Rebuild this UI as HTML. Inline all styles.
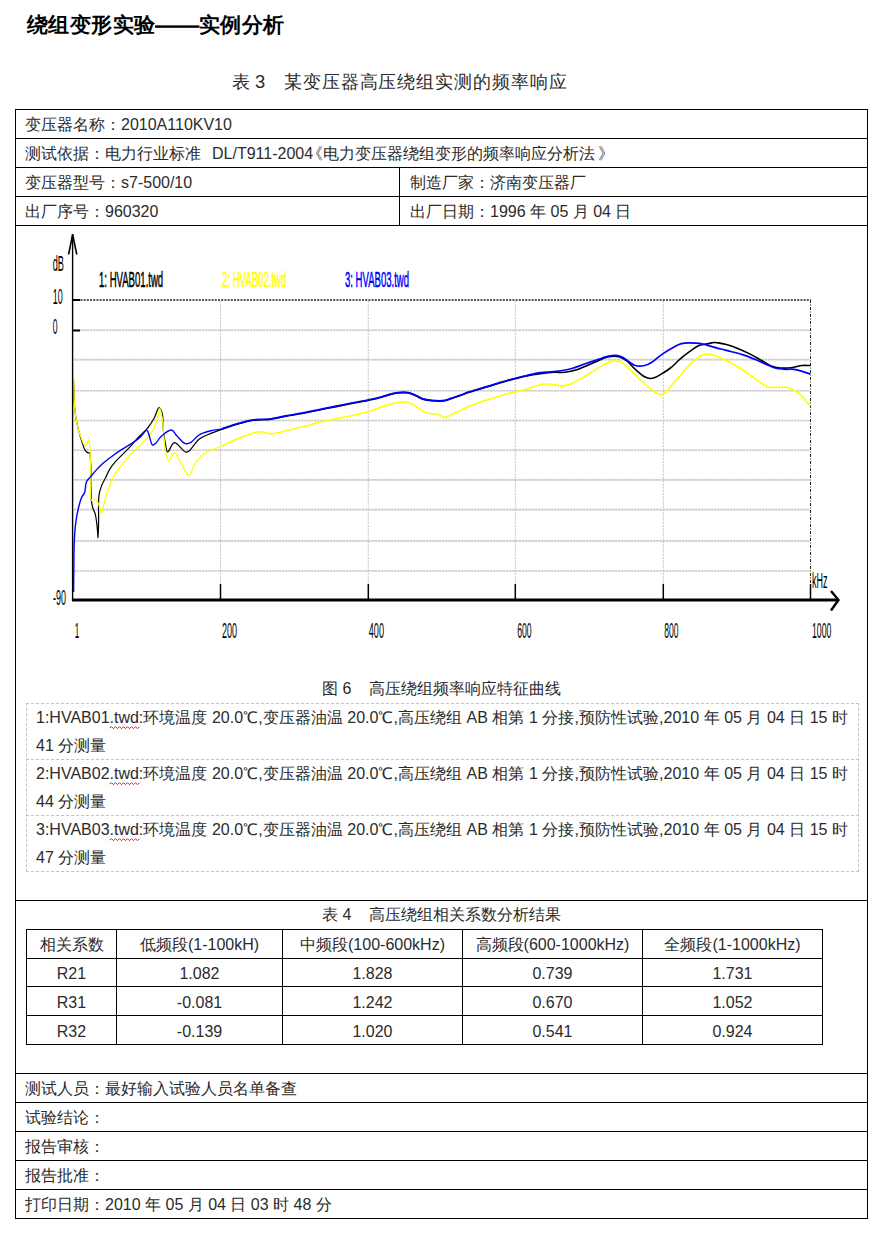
<!DOCTYPE html>
<html><head><meta charset="utf-8">
<style>
html,body{margin:0;padding:0;background:#fff;}
body{width:885px;height:1235px;position:relative;overflow:hidden;font-family:"Liberation Sans",sans-serif;color:#000;}
.h{position:absolute;height:1px;background:#000;}
.v{position:absolute;width:1px;background:#000;}
.t{position:absolute;font-size:16px;line-height:20px;white-space:nowrap;color:#2b2b2b;}
.c{position:absolute;font-size:16px;line-height:20px;white-space:nowrap;text-align:center;color:#2b2b2b;}
.j{position:absolute;font-size:16px;line-height:20px;white-space:nowrap;text-align:justify;text-align-last:justify;color:#2b2b2b;}
</style></head><body>
<!-- Title -->
<div class="t" style="left:27px;top:11px;color:#000;font-family:'Liberation Serif',serif;font-weight:bold;font-size:21.1px;letter-spacing:0.45px;line-height:28px;">绕组变形实验——实例分析</div>
<div class="t" style="left:232px;top:70px;font-size:18.45px;line-height:24px;">表 3</div><div class="t" style="left:284px;top:70px;font-size:18.45px;line-height:24px;letter-spacing:0.9px">某变压器高压绕组实测的频率响应</div>

<!-- outer table lines -->
<div class="v" style="left:15px;top:109px;height:1110px"></div>
<div class="v" style="left:867px;top:109px;height:1110px"></div>
<div class="h" style="left:15px;top:109px;width:853px"></div>
<div class="h" style="left:15px;top:138px;width:853px"></div>
<div class="h" style="left:15px;top:167px;width:853px"></div>
<div class="h" style="left:15px;top:196px;width:853px"></div>
<div class="h" style="left:15px;top:225px;width:853px"></div>
<div class="v" style="left:399px;top:167px;height:58px"></div>
<div class="h" style="left:15px;top:900px;width:853px"></div>
<div class="h" style="left:15px;top:1073px;width:853px"></div>
<div class="h" style="left:15px;top:1102px;width:853px"></div>
<div class="h" style="left:15px;top:1131px;width:853px"></div>
<div class="h" style="left:15px;top:1160px;width:853px"></div>
<div class="h" style="left:15px;top:1189px;width:853px"></div>
<div class="h" style="left:15px;top:1218px;width:853px"></div>

<!-- header rows -->
<div class="t" style="left:25px;top:115px">变压器名称：2010A110KV10</div>
<div class="t" style="left:25px;top:144px">测试依据：电力行业标准</div><div class="t" style="left:212px;top:144px">DL/T911-2004</div><div class="t" style="left:307px;top:144px">《电力变压器绕组变形的频率响应分析法<span style="margin-left:3px">》</span></div>
<div class="t" style="left:25px;top:173px">变压器型号：s7-500/10</div>
<div class="t" style="left:410px;top:173px">制造厂家：济南变压器厂</div>
<div class="t" style="left:25px;top:202px">出厂序号：960320</div>
<div class="t" style="left:410px;top:202px">出厂日期：1996 年 05 月 04 日</div>

<!-- CHART -->
<svg id="chart" width="885" height="1235" viewBox="0 0 885 1235" style="position:absolute;left:0;top:0">
<g fill="none">
<line x1="74" y1="330.3" x2="810" y2="330.3" stroke="#ececec" stroke-width="1.6"/>
<line x1="74" y1="330.3" x2="810" y2="330.3" stroke="#c6c6c6" stroke-width="1.6" stroke-dasharray="2 1.2"/>
<line x1="74" y1="359.6" x2="810" y2="359.6" stroke="#ececec" stroke-width="1.6"/>
<line x1="74" y1="359.6" x2="810" y2="359.6" stroke="#c6c6c6" stroke-width="1.6" stroke-dasharray="2 1.2"/>
<line x1="74" y1="390.7" x2="810" y2="390.7" stroke="#ececec" stroke-width="1.6"/>
<line x1="74" y1="390.7" x2="810" y2="390.7" stroke="#c6c6c6" stroke-width="1.6" stroke-dasharray="2 1.2"/>
<line x1="74" y1="420.5" x2="810" y2="420.5" stroke="#ececec" stroke-width="1.6"/>
<line x1="74" y1="420.5" x2="810" y2="420.5" stroke="#c6c6c6" stroke-width="1.6" stroke-dasharray="2 1.2"/>
<line x1="74" y1="450.2" x2="810" y2="450.2" stroke="#ececec" stroke-width="1.6"/>
<line x1="74" y1="450.2" x2="810" y2="450.2" stroke="#c6c6c6" stroke-width="1.6" stroke-dasharray="2 1.2"/>
<line x1="74" y1="479.9" x2="810" y2="479.9" stroke="#ececec" stroke-width="1.6"/>
<line x1="74" y1="479.9" x2="810" y2="479.9" stroke="#c6c6c6" stroke-width="1.6" stroke-dasharray="2 1.2"/>
<line x1="74" y1="509.6" x2="810" y2="509.6" stroke="#ececec" stroke-width="1.6"/>
<line x1="74" y1="509.6" x2="810" y2="509.6" stroke="#c6c6c6" stroke-width="1.6" stroke-dasharray="2 1.2"/>
<line x1="74" y1="540.9" x2="810" y2="540.9" stroke="#ececec" stroke-width="1.6"/>
<line x1="74" y1="540.9" x2="810" y2="540.9" stroke="#c6c6c6" stroke-width="1.6" stroke-dasharray="2 1.2"/>
<line x1="74" y1="571.0" x2="810" y2="571.0" stroke="#ececec" stroke-width="1.6"/>
<line x1="74" y1="571.0" x2="810" y2="571.0" stroke="#c6c6c6" stroke-width="1.6" stroke-dasharray="2 1.2"/>
<line x1="220.5" y1="301" x2="220.5" y2="584" stroke="#c6c6c6" stroke-width="1.1" stroke-dasharray="2 1.2"/>
<line x1="368.3" y1="301" x2="368.3" y2="584" stroke="#c6c6c6" stroke-width="1.1" stroke-dasharray="2 1.2"/>
<line x1="515.3" y1="301" x2="515.3" y2="584" stroke="#c6c6c6" stroke-width="1.1" stroke-dasharray="2 1.2"/>
<line x1="663.3" y1="301" x2="663.3" y2="584" stroke="#c6c6c6" stroke-width="1.1" stroke-dasharray="2 1.2"/>
<line x1="74" y1="300" x2="811" y2="300" stroke="#555" stroke-width="2" stroke-dasharray="2 1.2"/>
<line x1="810.5" y1="300" x2="810.5" y2="584" stroke="#222" stroke-width="1" stroke-dasharray="3 1.5 1 1.5"/>
<line x1="220.5" y1="584" x2="220.5" y2="599" stroke="#000" stroke-width="1.5"/>
<line x1="368.3" y1="584" x2="368.3" y2="599" stroke="#000" stroke-width="1.5"/>
<line x1="515.3" y1="584" x2="515.3" y2="599" stroke="#000" stroke-width="1.5"/>
<line x1="663.3" y1="584" x2="663.3" y2="599" stroke="#000" stroke-width="1.5"/>
<line x1="810.5" y1="584" x2="810.5" y2="599" stroke="#000" stroke-width="1.5"/>
<line x1="73" y1="300" x2="80" y2="300" stroke="#000" stroke-width="2"/>
<line x1="73" y1="330.5" x2="80" y2="330.5" stroke="#000" stroke-width="2"/>
<path d="M73.6,381 C73.70,384.67 73.76,388.11 73.9,392 C74.05,396.39 74.11,401.37 74.5,406 C74.88,410.57 75.46,415.35 76.2,419.6 C76.86,423.40 77.67,426.67 78.6,430.3 C79.58,434.13 80.78,438.41 82,442 C83.07,445.14 83.93,448.82 85.4,450.7 C86.38,451.95 87.99,453.04 88.8,453.1 C89.22,453.13 89.54,452.45 89.8,452.6 C90.47,452.98 90.22,457.55 90.4,460 C90.58,462.42 90.76,463.93 90.9,467.2 C91.20,474.20 90.71,493.02 91.4,500.2 C91.74,503.72 92.10,505.63 92.8,508 C93.42,510.11 94.54,511.41 95.2,513.8 C96.18,517.34 96.73,523.14 97.2,527.4 C97.62,531.15 97.78,538.00 98,538 C98.27,538.00 98.43,528.43 98.6,522.5 C98.83,514.52 98.03,501.28 99.1,494.4 C99.74,490.27 100.88,487.49 102,484.7 C102.90,482.44 103.89,481.01 105,478.8 C106.42,475.97 107.97,472.07 109.8,469.1 C111.53,466.30 113.50,463.82 115.6,461.4 C117.70,458.98 120.08,456.95 122.4,454.6 C124.87,452.10 127.35,449.64 130,446.8 C133.05,443.52 136.48,439.28 139.6,436 C142.37,433.08 145.29,430.93 147.7,428 C150.13,425.04 152.22,421.68 154.1,418.3 C155.99,414.91 157.49,407.76 159,407.7 C160.13,407.66 161.45,410.87 162.2,413.4 C163.43,417.53 162.79,425.40 163.4,430.8 C163.94,435.54 164.69,440.26 165.5,444.1 C166.13,447.09 166.35,451.76 167.6,452 C169.09,452.28 171.66,443.03 174.4,442.7 C177.47,442.33 182.65,451.34 185.4,452 C186.76,452.32 187.52,451.98 188.8,451.2 C191.52,449.54 195.14,442.32 199,439.3 C202.54,436.53 206.97,435.07 210.8,433.4 C214.28,431.89 217.60,430.87 221,429.6" stroke="#000" stroke-width="1.2" stroke-linejoin="round"/>
<path d="M221,429.6 C226.10,427.87 231.04,425.94 236.3,424.4 C241.76,422.80 247.52,421.03 253.2,420.2 C258.82,419.38 264.58,420.10 270.2,419.4 C275.84,418.70 281.75,416.98 287,416 C291.60,415.14 295.32,414.66 300,413.8 C305.52,412.78 311.98,411.40 318,410.2 C324.05,409.00 330.15,407.82 336.2,406.6 C342.22,405.39 348.52,404.01 354.2,402.9 C359.29,401.90 364.04,401.18 368.7,400.2 C373.09,399.27 376.92,398.31 381.4,397.2 C386.48,395.94 392.70,393.63 397.6,393 C401.56,392.50 405.29,392.42 408.5,393 C411.20,393.49 413.32,394.67 415.7,395.7 C418.15,396.76 420.37,398.45 423,399.3 C425.78,400.20 428.73,400.53 432,400.8 C435.86,401.12 441.10,401.38 444.7,400.8 C447.48,400.35 449.43,399.22 451.9,398.4 C454.52,397.53 457.22,396.68 460,395.7 C462.98,394.65 465.55,393.52 469.2,392.3 C474.41,390.55 482.00,388.43 488.4,386.5 C494.80,384.57 501.18,382.47 507.6,380.7 C513.98,378.94 520.94,377.11 526.8,375.9 C531.67,374.90 535.80,374.30 540.3,373.7 C544.77,373.10 549.39,372.52 553.7,372.3 C557.70,372.09 561.46,372.71 565.3,372.3 C569.16,371.88 573.02,370.99 576.8,369.8 C580.69,368.58 584.33,366.69 588.3,365 C592.60,363.17 598.14,360.64 601.7,359.2 C604.02,358.26 605.19,357.44 607.5,357 C610.64,356.40 615.60,355.97 619,356.8 C622.05,357.55 624.52,359.29 627.1,361.2 C629.98,363.34 632.40,366.72 635.3,369.3 C638.26,371.93 641.85,375.29 644.7,376.8 C646.67,377.84 648.37,378.44 650.2,378.5 C652.00,378.56 653.75,377.92 655.6,377.2 C657.79,376.34 660.06,374.83 662.4,373.4 C665.01,371.80 667.78,370.15 670.5,368 C673.64,365.53 676.78,361.96 680,359.2 C683.11,356.53 686.28,354.00 689.5,351.7 C692.61,349.48 695.70,346.95 699,345.6 C702.06,344.35 705.78,344.16 708.5,343.6 C710.55,343.18 712.21,342.59 713.9,342.5 C715.38,342.42 716.48,342.66 718.1,342.9 C720.39,343.25 723.41,343.81 726.3,344.6 C729.68,345.53 733.33,346.81 737.1,348.3 C741.41,350.00 746.47,352.26 750.7,354.4 C754.56,356.35 758.02,358.53 761.5,360.5 C764.77,362.35 767.74,364.64 771,365.9 C774.08,367.08 777.20,367.69 780.5,368 C783.99,368.33 787.79,368.11 791.4,367.7 C795.03,367.28 798.84,365.84 802.2,365.5 C805.08,365.21 807.60,365.50 810.3,365.5" stroke="#000" stroke-width="1.6" stroke-linejoin="round"/>
<path d="M73.6,378 C73.70,382.17 73.74,385.98 73.9,390.5 C74.09,395.84 74.24,402.77 74.7,408 C75.07,412.27 75.53,415.83 76.2,419.6 C76.84,423.25 77.61,426.85 78.6,430.3 C79.56,433.64 80.79,437.29 82,440 C82.92,442.08 83.87,444.96 84.9,445.3 C85.51,445.50 86.27,444.99 86.8,444.4 C87.63,443.48 88.03,439.46 88.5,439.5 C89.07,439.54 89.49,444.00 89.8,446.8 C90.22,450.54 90.23,455.21 90.4,460 C90.61,465.71 90.74,472.33 90.9,478.8 C91.07,485.70 89.37,498.72 91.4,500.2 C92.23,500.80 93.74,498.86 94.8,499.2 C96.19,499.64 97.60,502.01 98.6,504 C99.85,506.49 100.12,513.29 101.1,513.3 C102.43,513.31 104.10,501.80 105.9,496.3 C107.64,490.98 109.85,485.05 111.7,480.8 C113.04,477.72 113.96,475.59 115.6,473 C117.44,470.09 120.07,467.28 122.4,464.3 C124.86,461.15 127.65,457.04 130,454.6 C131.66,452.87 132.89,452.27 134.7,450.6 C137.40,448.11 141.38,444.20 144.4,440.9 C147.30,437.73 150.36,434.86 152.5,431.2 C154.74,427.37 156.14,422.34 157.4,418.3 C158.48,414.84 159.00,408.50 159.8,408.5 C160.60,408.50 161.65,415.46 162.2,418.3 C162.61,420.44 162.71,421.44 163,424 C163.58,429.21 163.81,441.15 165,447.8 C165.88,452.74 166.72,460.15 168.5,460.5 C170.02,460.80 172.47,452.85 174.4,452.9 C176.40,452.95 178.20,458.21 180.3,461.4 C182.92,465.38 186.17,475.06 188.8,475 C191.24,474.95 192.99,466.62 195.6,463 C198.09,459.55 200.45,456.26 204,453.7 C208.10,450.75 214.20,449.23 219.3,447" stroke="#ffff00" stroke-width="1.3" stroke-linejoin="round"/>
<path d="M219.3,447 C224.97,444.43 230.93,441.53 236.3,439.3 C241.03,437.34 245.39,435.49 249.8,434.2 C253.85,433.02 258.08,431.62 261.7,431.7 C264.78,431.77 267.36,433.77 270.2,433.9 C273.00,434.02 275.33,433.18 278.6,432.5 C283.29,431.53 290.17,429.61 295.6,428.3 C300.60,427.09 305.92,426.02 310,424.9 C313.07,424.06 314.77,423.22 318,422.4 C322.81,421.18 330.15,420.00 336.2,418.8 C342.22,417.60 348.54,416.47 354.2,415.2 C359.31,414.06 364.06,413.01 368.7,411.6 C373.11,410.26 376.88,408.44 381.4,407 C386.44,405.39 392.69,403.17 397.6,402.5 C401.55,401.96 405.32,401.73 408.5,402.5 C411.24,403.16 413.09,404.72 415.7,406.2 C418.99,408.07 422.82,411.67 426.6,413 C430.08,414.23 434.20,413.45 437.4,414.3 C440.13,415.03 442.28,417.41 444.7,417.4 C447.11,417.39 449.43,415.38 451.9,414.3 C454.52,413.15 457.22,411.98 460,410.7 C462.98,409.33 465.53,407.82 469.2,406.3 C474.39,404.15 481.97,401.59 488.4,399.5 C494.77,397.43 501.18,395.55 507.6,393.8 C513.98,392.06 520.78,390.69 526.8,389 C532.24,387.47 537.39,384.85 542.2,384.2 C546.26,383.65 550.26,384.21 553.7,384.6 C556.54,384.92 558.83,386.10 561.4,386.1 C563.97,386.10 566.18,385.63 569.1,384.6 C573.45,383.07 579.28,379.48 584.5,376.5 C590.13,373.29 597.63,368.23 601.7,365.9 C603.88,364.66 604.86,363.98 606.8,363.2 C609.15,362.26 612.31,360.96 614.9,360.9 C617.26,360.85 619.39,361.32 621.7,362.5 C624.79,364.08 628.09,367.81 631.2,370.7 C634.42,373.69 637.38,377.09 640.7,380.2 C644.14,383.42 648.23,387.25 651.5,389.7 C653.95,391.53 656.07,393.42 658.3,394 C660.13,394.47 661.83,394.57 663.7,393.7 C666.69,392.31 669.97,387.22 673.2,383.6 C676.76,379.61 680.39,374.75 684.1,370.7 C687.63,366.84 691.22,362.62 694.9,359.8 C698.01,357.42 701.25,355.17 704.4,354.4 C707.11,353.74 709.83,354.17 712.5,354.7 C715.30,355.26 717.97,356.58 720.8,357.8 C723.89,359.14 726.98,360.66 730.3,362.5 C734.16,364.64 738.58,367.45 742.5,370 C746.27,372.45 749.77,375.01 753.4,377.5 C757.01,379.98 761.42,383.18 764.2,384.9 C765.86,385.93 766.34,386.69 768.3,387.2 C772.24,388.23 782.64,386.19 787.3,387.2 C790.22,387.84 791.81,388.94 794.1,390.3 C796.77,391.89 799.65,393.91 802.2,396.4 C805.09,399.22 807.60,403.20 810.3,406.6" stroke="#ffff00" stroke-width="1.6" stroke-linejoin="round"/>
<path d="M73.6,592 C73.70,581.33 73.74,569.55 73.9,560 C74.03,552.27 74.04,545.57 74.4,539 C74.72,533.16 75.07,527.90 75.8,522.5 C76.51,517.23 77.58,511.54 78.7,507 C79.60,503.36 80.53,499.93 81.7,497.3 C82.57,495.33 83.85,494.43 84.6,492.4 C85.64,489.59 85.25,484.44 86.5,481.7 C87.45,479.63 88.96,478.63 90.4,476.9 C92.13,474.82 94.14,472.33 96.2,470.1 C98.33,467.79 100.52,465.49 103,463.3 C105.66,460.95 108.68,458.72 111.7,456.5 C114.84,454.19 118.32,451.79 121.5,449.7 C124.41,447.78 127.11,446.31 130,444.4 C133.13,442.33 136.71,440.12 139.6,437.7 C142.31,435.43 145.25,430.08 146.9,430.4 C148.16,430.64 148.48,433.90 149.3,436 C150.33,438.63 151.00,444.41 152.5,445 C153.43,445.37 154.70,444.23 155.8,443.3 C157.41,441.94 158.44,438.89 160.6,436.9 C163.34,434.37 168.61,429.61 171.5,430 C173.80,430.31 174.92,433.93 177,436 C179.46,438.44 182.77,442.84 185.4,443.6 C187.18,444.11 188.72,443.57 190.5,442.7 C193.15,441.40 195.71,436.97 199,435 C202.44,432.94 206.97,431.77 210.8,430.8 C214.28,429.92 217.60,429.73 221,429.2" stroke="#0000ff" stroke-width="1.4" stroke-linejoin="round"/>
<path d="M221,429.2 C226.10,427.47 231.04,425.54 236.3,424 C241.76,422.40 247.52,420.63 253.2,419.8 C258.82,418.98 264.58,419.70 270.2,419 C275.84,418.30 281.75,416.58 287,415.6 C291.60,414.74 295.32,414.26 300,413.4 C305.52,412.38 311.98,411.00 318,409.8 C324.05,408.60 330.15,407.42 336.2,406.2 C342.22,404.99 348.52,403.61 354.2,402.5 C359.29,401.50 364.04,400.78 368.7,399.8 C373.09,398.87 376.92,397.91 381.4,396.8 C386.48,395.54 392.70,393.23 397.6,392.6 C401.56,392.10 405.29,392.02 408.5,392.6 C411.20,393.09 413.32,394.27 415.7,395.3 C418.15,396.36 420.37,398.05 423,398.9 C425.78,399.80 428.73,400.13 432,400.4 C435.86,400.72 441.10,400.98 444.7,400.4 C447.48,399.95 449.43,398.82 451.9,398 C454.52,397.13 457.22,396.28 460,395.3 C462.98,394.25 465.55,393.12 469.2,391.9 C474.41,390.15 482.00,388.03 488.4,386.1 C494.80,384.17 501.18,382.07 507.6,380.3 C513.98,378.54 520.95,376.84 526.8,375.5 C531.68,374.38 535.79,373.33 540.3,372.7 C544.75,372.07 548.96,372.27 553.7,371.7 C559.11,371.05 565.65,370.19 571,368.8 C575.84,367.54 579.72,365.66 584.5,364 C589.88,362.14 597.49,359.60 601.7,358.2 C604.14,357.39 605.21,356.72 607.5,356.3 C610.65,355.73 615.95,355.15 619,355.8 C621.21,356.27 622.32,357.32 624.4,358.5 C627.44,360.23 631.64,364.43 635.3,365.5 C638.42,366.41 641.88,366.10 644.7,365.5 C647.21,364.97 649.14,363.91 651.5,362.5 C654.51,360.70 657.78,357.38 661,355.1 C664.12,352.89 667.17,350.89 670.5,349 C673.96,347.04 677.36,344.60 681.4,343.6 C685.87,342.49 692.32,342.96 696.3,343.2 C698.98,343.36 700.89,343.77 703,344.2 C704.93,344.59 706.31,345.02 708.5,345.6 C711.79,346.47 716.82,347.96 720.8,349 C724.54,349.98 727.97,350.72 731.7,351.7 C735.66,352.74 739.87,353.76 743.9,355.1 C748.00,356.46 752.17,358.18 756.1,359.8 C759.85,361.35 763.63,363.15 767,364.6 C769.89,365.84 772.15,367.22 775.1,368 C778.39,368.87 782.54,369.10 785.9,369.3 C788.82,369.47 791.40,368.96 794.1,369.3 C796.83,369.65 799.51,370.60 802.2,371.4 C804.91,372.20 807.60,373.20 810.3,374.1" stroke="#0000ff" stroke-width="1.7" stroke-linejoin="round"/>
<line x1="72.6" y1="234" x2="72.6" y2="601" stroke="#000" stroke-width="1.4"/>
<polyline points="68.6,254.5 72.6,234.5 76.8,254.5" stroke="#000" stroke-width="1.6"/>
<line x1="72" y1="600" x2="838" y2="600" stroke="#000" stroke-width="3"/>
<polyline points="831,591 838.5,600 831,610.5" stroke="#000" stroke-width="2.4"/>
</g>
<g font-family="Liberation Sans, sans-serif"><text x="52.7" y="270.6" font-size="21.5" fill="#000" textLength="11.3" lengthAdjust="spacingAndGlyphs">dB</text><text x="52.7" y="304.2" font-size="21.5" fill="#000" textLength="10" lengthAdjust="spacingAndGlyphs">10</text><text x="52.7" y="333.7" font-size="21.5" fill="#000" textLength="4.8" lengthAdjust="spacingAndGlyphs">0</text><text x="53" y="605" font-size="21.5" fill="#000" textLength="13" lengthAdjust="spacingAndGlyphs">-90</text><text x="74.8" y="638" font-size="21.5" fill="#000" textLength="4.5" lengthAdjust="spacingAndGlyphs">1</text><text x="222" y="638" font-size="21.5" fill="#000" textLength="15" lengthAdjust="spacingAndGlyphs">200</text><text x="368.8" y="638" font-size="21.5" fill="#000" textLength="15.2" lengthAdjust="spacingAndGlyphs">400</text><text x="517.2" y="638" font-size="21.5" fill="#000" textLength="14.5" lengthAdjust="spacingAndGlyphs">600</text><text x="664.2" y="638" font-size="21.5" fill="#000" textLength="14.3" lengthAdjust="spacingAndGlyphs">800</text><text x="812" y="638" font-size="21.5" fill="#000" textLength="19.4" lengthAdjust="spacingAndGlyphs">1000</text><text x="812" y="588" font-size="21.5" fill="#000" textLength="15.5" lengthAdjust="spacingAndGlyphs">kHz</text><text x="99" y="286.9" font-size="22" fill="#000" stroke="#000" stroke-width="0.55" textLength="64.2" lengthAdjust="spacingAndGlyphs">1: HVAB01.twd</text><text x="222" y="286.9" font-size="22" fill="#ffff00" stroke="#ffff00" stroke-width="0.55" textLength="64.3" lengthAdjust="spacingAndGlyphs">2: HVAB02.twd</text><text x="345" y="286.9" font-size="22" fill="#0000ff" stroke="#0000ff" stroke-width="0.55" textLength="64" lengthAdjust="spacingAndGlyphs">3: HVAB03.twd</text></g>
<line x1="155" y1="26.6" x2="199.5" y2="26.6" stroke="#000" stroke-width="2.4"/>
<path d="M109.5,728 L111.5,726.7 L113.5,728.7 L115.5,726.7 L117.5,728.7 L119.5,726.7 L121.5,728.7 L123.5,726.7 L125.5,728.7 L127.5,726.7 L129.5,728.7 L131.5,726.7 L133.5,728.7 L135.5,726.7 L137.5,728.7 L139.5,726.7" stroke="#e02020" stroke-width="1" fill="none"/>
<path d="M109.5,784 L111.5,782.7 L113.5,784.7 L115.5,782.7 L117.5,784.7 L119.5,782.7 L121.5,784.7 L123.5,782.7 L125.5,784.7 L127.5,782.7 L129.5,784.7 L131.5,782.7 L133.5,784.7 L135.5,782.7 L137.5,784.7 L139.5,782.7" stroke="#e02020" stroke-width="1" fill="none"/>
<path d="M109.5,840 L111.5,838.7 L113.5,840.7 L115.5,838.7 L117.5,840.7 L119.5,838.7 L121.5,840.7 L123.5,838.7 L125.5,840.7 L127.5,838.7 L129.5,840.7 L131.5,838.7 L133.5,840.7 L135.5,838.7 L137.5,840.7 L139.5,838.7" stroke="#e02020" stroke-width="1" fill="none"/>
</svg>

<div class="t" style="left:322px;top:679px">图 6&nbsp;&nbsp;&nbsp;&nbsp;高压绕组频率响应特征曲线</div>

<!-- legend boxes -->
<div style="position:absolute;left:26px;top:703px;width:831px;height:167px;border:1px dashed #c4c4c4;"></div>
<div style="position:absolute;left:26px;top:759px;width:833px;height:0;border-top:1px dashed #c4c4c4;"></div>
<div style="position:absolute;left:26px;top:815px;width:833px;height:0;border-top:1px dashed #c4c4c4;"></div>
<div class="j" style="left:36px;top:708px;width:812px">1:HVAB01.twd:环境温度 20.0℃,变压器油温 20.0℃,高压绕组 AB 相第 1 分接,预防性试验,2010 年 05 月 04 日 15 时</div>
<div class="t" style="left:36px;top:736px">41 分测量</div>
<div class="j" style="left:36px;top:764px;width:812px">2:HVAB02.twd:环境温度 20.0℃,变压器油温 20.0℃,高压绕组 AB 相第 1 分接,预防性试验,2010 年 05 月 04 日 15 时</div>
<div class="t" style="left:36px;top:792px">44 分测量</div>
<div class="j" style="left:36px;top:820px;width:812px">3:HVAB03.twd:环境温度 20.0℃,变压器油温 20.0℃,高压绕组 AB 相第 1 分接,预防性试验,2010 年 05 月 04 日 15 时</div>
<div class="t" style="left:36px;top:848px">47 分测量</div>

<!-- table 4 -->
<div class="t" style="left:322px;top:905px">表 4&nbsp;&nbsp;&nbsp;&nbsp;高压绕组相关系数分析结果</div>
<div class="h" style="left:26px;top:929px;width:797px"></div>
<div class="h" style="left:26px;top:958px;width:797px"></div>
<div class="h" style="left:26px;top:986px;width:797px"></div>
<div class="h" style="left:26px;top:1015px;width:797px"></div>
<div class="h" style="left:26px;top:1044px;width:797px"></div>
<div class="v" style="left:26px;top:929px;height:116px"></div>
<div class="v" style="left:116px;top:929px;height:116px"></div>
<div class="v" style="left:282px;top:929px;height:116px"></div>
<div class="v" style="left:462px;top:929px;height:116px"></div>
<div class="v" style="left:642px;top:929px;height:116px"></div>
<div class="v" style="left:822px;top:929px;height:116px"></div>

<div class="c" style="left:27px;width:89px;top:935px">相关系数</div>
<div class="c" style="left:117px;width:165px;top:935px">低频段(1-100kH)</div>
<div class="c" style="left:283px;width:179px;top:935px">中频段(100-600kHz)</div>
<div class="c" style="left:463px;width:179px;top:935px">高频段(600-1000kHz)</div>
<div class="c" style="left:643px;width:179px;top:935px">全频段(1-1000kHz)</div>

<div class="c" style="left:27px;width:89px;top:964px">R21</div>
<div class="c" style="left:117px;width:165px;top:964px">1.082</div>
<div class="c" style="left:283px;width:179px;top:964px">1.828</div>
<div class="c" style="left:463px;width:179px;top:964px">0.739</div>
<div class="c" style="left:643px;width:179px;top:964px">1.731</div>

<div class="c" style="left:27px;width:89px;top:993px">R31</div>
<div class="c" style="left:117px;width:165px;top:993px">-0.081</div>
<div class="c" style="left:283px;width:179px;top:993px">1.242</div>
<div class="c" style="left:463px;width:179px;top:993px">0.670</div>
<div class="c" style="left:643px;width:179px;top:993px">1.052</div>

<div class="c" style="left:27px;width:89px;top:1022px">R32</div>
<div class="c" style="left:117px;width:165px;top:1022px">-0.139</div>
<div class="c" style="left:283px;width:179px;top:1022px">1.020</div>
<div class="c" style="left:463px;width:179px;top:1022px">0.541</div>
<div class="c" style="left:643px;width:179px;top:1022px">0.924</div>

<!-- bottom rows -->
<div class="t" style="left:25px;top:1079px">测试人员：最好输入试验人员名单备查</div>
<div class="t" style="left:25px;top:1108px">试验结论：</div>
<div class="t" style="left:25px;top:1137px">报告审核：</div>
<div class="t" style="left:25px;top:1166px">报告批准：</div>
<div class="t" style="left:25px;top:1195px">打印日期：2010 年 05 月 04 日 03 时 48 分</div>
</body></html>
